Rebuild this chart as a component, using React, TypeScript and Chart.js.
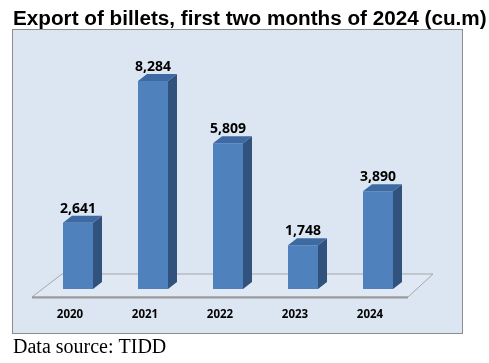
import React, { useEffect, useRef } from "react";
import { Chart, registerables } from "chart.js";

Chart.register(...registerables);

const categories = ["2020", "2021", "2022", "2023", "2024"];
const exportValues = [2641, 8284, 5809, 1748, 3890];
const titleText = "Export of billets, first two months of 2024 (cu.m)";
const sourceText = "Data source: TIDD";

const FRONT = "#4f81bd";
const SIDE = "#30527d";
const TOP = "#3d6aa3";
const DX = 9;
const DY = 7;

const decorPlugin = {
  id: "decor",
  beforeDraw(chart: any) {
    const ctx = chart.ctx;
    const ca = chart.chartArea;
    ctx.save();
    ctx.fillStyle = "#ffffff";
    ctx.fillRect(0, 0, chart.width, chart.height);
    // title
    ctx.fillStyle = "#000000";
    ctx.font = "bold 20.7px 'Liberation Sans', Arial, sans-serif";
    ctx.textAlign = "left";
    ctx.textBaseline = "alphabetic";
    ctx.fillText(titleText, 13, 24.5);
    // box
    ctx.fillStyle = "#dce6f2";
    ctx.fillRect(12.5, 29.5, 450, 304);
    ctx.strokeStyle = "#8c8c8c";
    ctx.lineWidth = 1;
    ctx.strokeRect(12.5, 29.5, 450, 304);
    // source
    ctx.fillStyle = "#000000";
    ctx.font = "20px 'Liberation Serif', 'Times New Roman', serif";
    ctx.fillText(sourceText, 13, 353);
    // floor
    const b = ca.bottom;
    const fl = ca.left - 8.5;
    const fr = ca.right - 7.5;
    const bl = ca.left + 21.5;
    const br = ca.right + 17.5;
    const fy = b + 8;
    const by = b - 15;
    ctx.beginPath();
    ctx.moveTo(fl, fy);
    ctx.lineTo(bl, by);
    ctx.lineTo(br, by);
    ctx.lineTo(fr, fy);
    ctx.closePath();
    ctx.fillStyle = "#dfe8f3";
    ctx.fill();
    ctx.strokeStyle = "#a6a6a6";
    ctx.lineWidth = 1;
    ctx.stroke();
    ctx.beginPath();
    ctx.moveTo(fl, fy + 0.5);
    ctx.lineTo(fr, fy + 0.5);
    ctx.strokeStyle = "#9a9a9a";
    ctx.lineWidth = 2;
    ctx.stroke();
    ctx.restore();
  },
  afterDatasetsDraw(chart: any) {
    const ctx = chart.ctx;
    const meta = chart.getDatasetMeta(0);
    const ca = chart.chartArea;
    ctx.save();
    meta.data.forEach((bar: any, i: number) => {
      const { x, y, base, width } = bar.getProps(["x", "y", "base", "width"], true);
      const l = x - width / 2;
      const r = x + width / 2;
      ctx.beginPath();
      ctx.moveTo(r, y);
      ctx.lineTo(r + DX, y - DY);
      ctx.lineTo(r + DX, base - DY);
      ctx.lineTo(r, base);
      ctx.closePath();
      ctx.fillStyle = SIDE;
      ctx.fill();
      ctx.beginPath();
      ctx.moveTo(l, y);
      ctx.lineTo(l + DX, y - DY);
      ctx.lineTo(r + DX, y - DY);
      ctx.lineTo(r, y);
      ctx.closePath();
      ctx.fillStyle = TOP;
      ctx.fill();
      // value label
      ctx.fillStyle = "#000000";
      ctx.font = "bold 14px 'Noto Sans', sans-serif";
      ctx.textAlign = "center";
      ctx.textBaseline = "alphabetic";
      ctx.fillText(exportValues[i].toLocaleString("en-US"), x, y - 10);
      // category label
      ctx.font = "bold 11.5px 'Noto Sans', sans-serif";
      ctx.fillText(categories[i], x - 8, ca.bottom + 29);
    });
    ctx.restore();
  },
};

export default function App() {
  const ref = useRef<HTMLCanvasElement>(null);
  useEffect(() => {
    document.body.style.margin = "0";
    const chart = new Chart(ref.current as HTMLCanvasElement, {
      type: "bar",
      data: {
        labels: categories,
        datasets: [
          {
            data: exportValues,
            backgroundColor: FRONT,
            borderWidth: 0,
            barPercentage: 0.4,
            categoryPercentage: 1,
          },
        ],
      },
      options: {
        responsive: false,
        animation: false,
        layout: { padding: { left: 40.5, right: 73.5, top: 38, bottom: 74 } },
        plugins: { legend: { display: false }, title: { display: false }, tooltip: { enabled: false } },
        scales: {
          x: { display: false, grid: { display: false } },
          y: { display: false, min: 0, max: 10000, grid: { display: false } },
        },
      },
      plugins: [decorPlugin],
    });
    return () => chart.destroy();
  }, []);
  return (
    <div style={{ width: 489, height: 363 }}>
      <canvas ref={ref} width={489} height={363} />
    </div>
  );
}
